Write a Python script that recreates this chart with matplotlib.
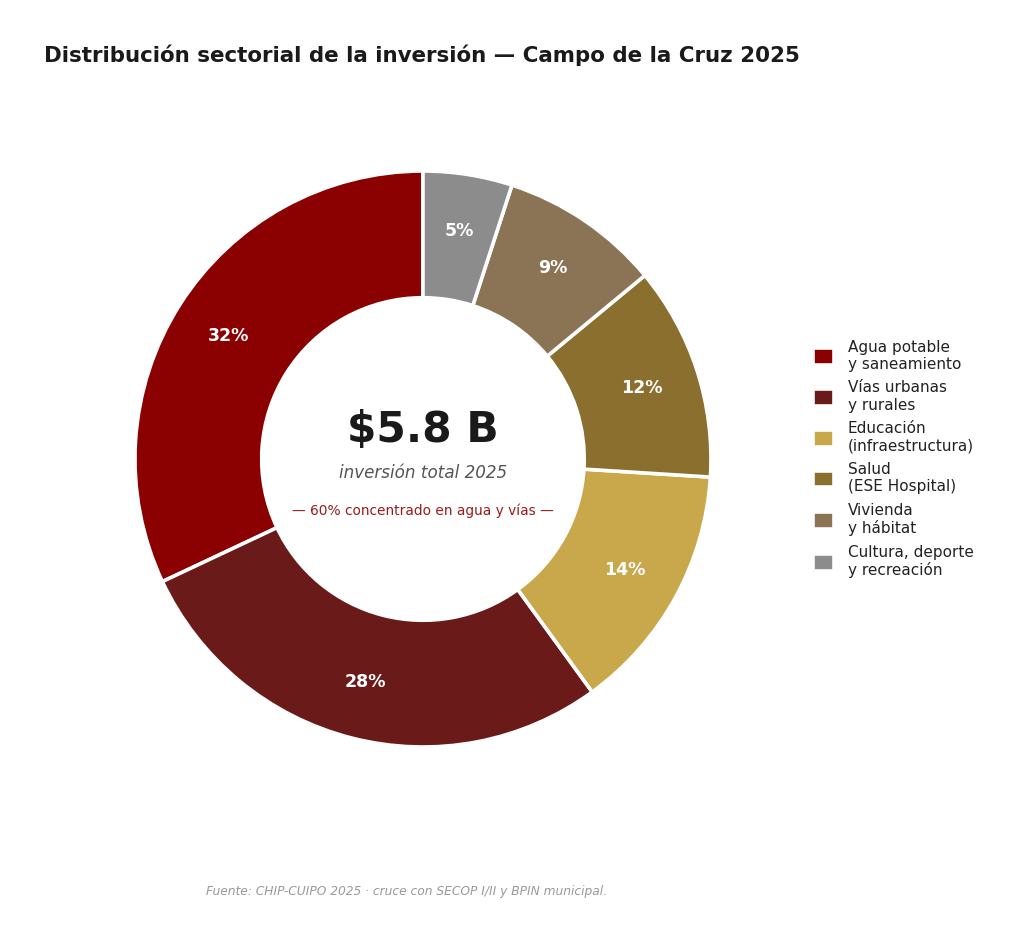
import matplotlib
matplotlib.use("Agg")
import matplotlib.pyplot as plt

# sectores y participación (%)
sectores = ["Agua potable\ny saneamiento", "Vías urbanas\ny rurales", "Educación\n(infraestructura)",
            "Salud\n(ESE Hospital)", "Vivienda\ny hábitat", "Cultura, deporte\ny recreación"]
porcentajes = [32, 28, 14, 12, 9, 5]
colores = ["#8B0000", "#6B1A1A", "#C9A84C", "#8B6F2E", "#8B7355", "#8C8C8C"]

plt.rcParams['font.family'] = ['DejaVu Sans']

fig = plt.figure(figsize=(10.24, 9.42), dpi=100)
ax = fig.add_axes([0.1318, 0.207, 0.5625, 0.6115])

wedges, texts, autotexts = ax.pie(
    porcentajes, colors=colores, startangle=90, counterclock=True,
    autopct=lambda p: f"{p:.0f}%", pctdistance=0.80,
    wedgeprops=dict(width=0.44, edgecolor="white", linewidth=2.6))
for t in autotexts:
    t.set_color("white")
    t.set_fontsize(12.5)
    t.set_fontweight("bold")
ax.set_xlim(-1, 1)
ax.set_ylim(-1, 1)
ax.set_aspect("equal")

# texto central
ax.text(0, 0.1, "$5.8 B", ha="center", va="center", fontsize=30.5, fontweight="bold", color="#1a1a1a")
ax.text(0, -0.05, "inversión total 2025", ha="center", va="center", fontsize=12.1,
        style="italic", color="#555555")
ax.text(0, -0.18, "— 60% concentrado en agua y vías —", ha="center", va="center",
        fontsize=9.9, color="#9B1B1B")

fig.text(44 / 1024, 1 - 55 / 942, "Distribución sectorial de la inversión — Campo de la Cruz 2025",
         fontsize=15.4, fontweight="bold", color="#1a1a1a", ha="left", va="center")
fig.text(206 / 1024, 1 - 891 / 942, "Fuente: CHIP-CUIPO 2025 · cruce con SECOP I/II y BPIN municipal.",
         fontsize=8.85, style="italic", color="#999999", ha="left", va="center")

fig.legend(wedges, sectores, loc="center left", bbox_to_anchor=(799 / 1024, 1 - 459 / 942),
           frameon=False, fontsize=11, labelspacing=0.55, handlelength=1.4, handleheight=1.3,
           handletextpad=0.9, labelcolor="#222222")

fig.savefig("out.png", dpi=100, facecolor="white")
